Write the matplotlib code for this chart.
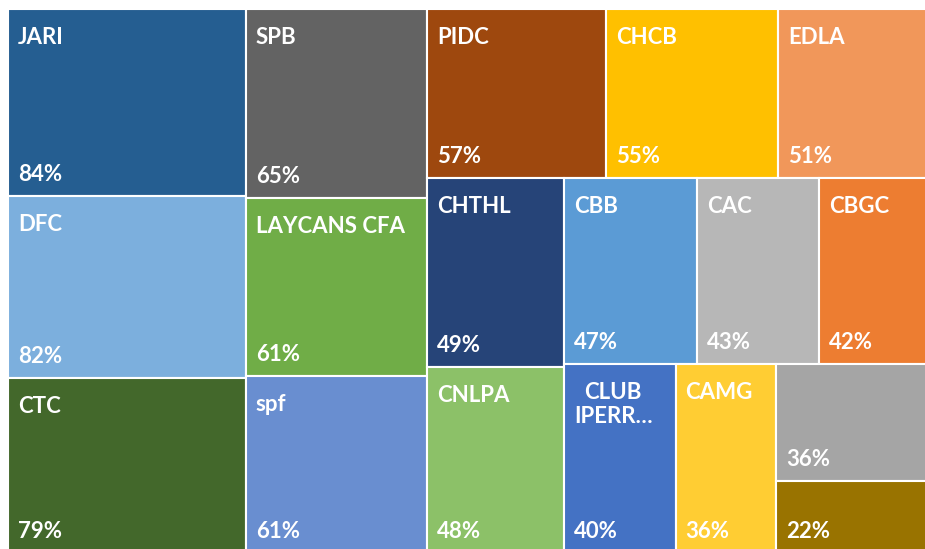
import matplotlib
matplotlib.use("Agg")
import matplotlib.pyplot as plt
from matplotlib.patches import Rectangle

# ---- data ----
names = ["JARI", "DFC", "CTC", "SPB", "LAYCANS CFA", "spf", "PIDC", "CHCB", "EDLA",
         "CHTHL", "CNLPA", "CBB", "CAC", "CBGC", "CLUB\nIPERR…", "CAMG", "", ""]
values = [84, 82, 79, 65, 61, 61, 57, 55, 51, 49, 48, 47, 43, 42, 40, 36, 36, 22]
colors = ["#255E91", "#7CAFDD", "#43682B", "#636363", "#70AD47", "#698ED0",
          "#9E480E", "#FFC000", "#F1975A", "#264478", "#8CC168", "#5B9BD5",
          "#B7B7B7", "#ED7D31", "#4472C4", "#FFCD33", "#A5A5A5", "#997300"]
# number of items per strip (Excel-like squarified grouping)
strips = [3, 3, 3, 2, 3, 1, 1, 1, 1]


def layout(vals, strip_sizes, x, y, w, h):
    rects = []
    scale = w * h / sum(vals)
    i = 0
    for n in strip_sizes:
        grp = vals[i:i + n]
        area = sum(grp) * scale
        if w >= h:
            sw = area / h
            yy = y
            for v in grp:
                hh = v * scale / sw
                rects.append((x, yy, sw, hh))
                yy += hh
            x += sw
            w -= sw
        else:
            sh = area / w
            xx = x
            for v in grp:
                ww = v * scale / sh
                rects.append((xx, y, ww, sh))
                xx += ww
            y += sh
            h -= sh
        i += n
    return rects


W, H = 925, 549
fig = plt.figure(figsize=(W / 100, H / 100), dpi=100)
ax = fig.add_axes([0, 0, 1, 1])
ax.set_xlim(0, W)
ax.set_ylim(H, 0)
ax.axis("off")

rects = layout(values, strips, 8, 9, 930, 544)
font = dict(family=["Lato", "DejaVu Sans"], fontweight="bold", color="white", fontsize=16)
for (x, y, w, h), nm, v, c in zip(rects, names, values, colors):
    ax.add_patch(Rectangle((x, y), w, h, facecolor=c, edgecolor="white", linewidth=1.5))
    if nm:
        ax.text(x + 10, y + 18, nm, va="top", ha="left", multialignment="center", **font)
    ax.text(x + 10, y + h - 15, f"{v}%", va="baseline", ha="left", **font)

fig.savefig("out.png", dpi=100)
